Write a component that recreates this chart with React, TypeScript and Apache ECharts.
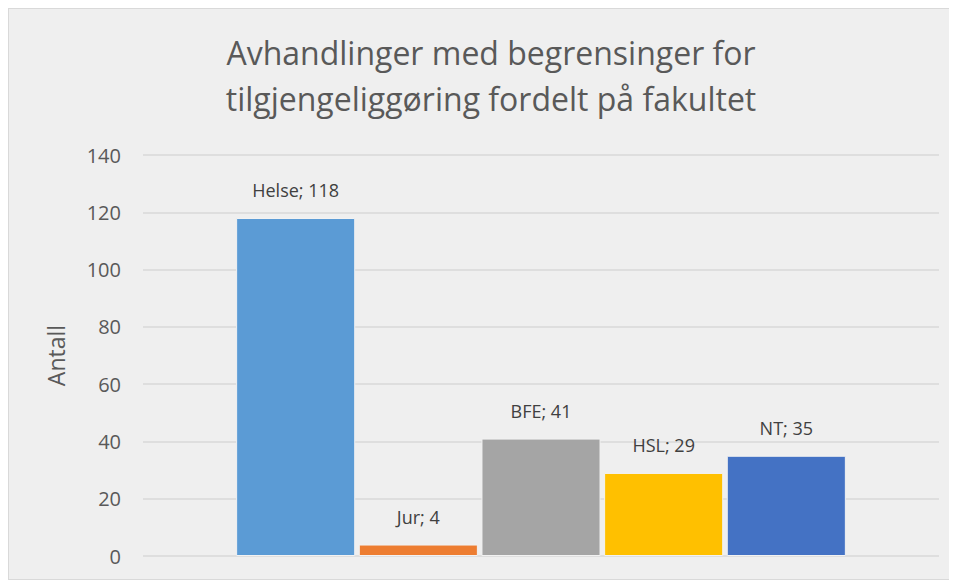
import React, { useEffect, useRef } from "react";
import * as echarts from "echarts";

const categories = ["Fakultet"];
const seriesNames = ["Helse", "Jur", "BFE", "HSL", "NT"];
const seriesValues = [118, 4, 41, 29, 35];
const seriesColors = ["#5B9BD5", "#ED7D31", "#A5A5A5", "#FFC000", "#4472C4"];
const yTicks = { min: 0, max: 140, interval: 20 };
const titleLines = ["Avhandlinger med begrensinger for", "tilgjengeliggøring fordelt på fakultet"];
const yAxisName = "Antall";

const FONT = "'Open Sans', 'Noto Sans', sans-serif";

export default function App() {
  const ref = useRef<HTMLDivElement>(null);
  useEffect(() => {
    if (!ref.current) return;
    const chart = echarts.init(ref.current, null, { renderer: "svg" });
    chart.setOption({
      animation: false,
      backgroundColor: "#EFEFEF",
      textStyle: { fontFamily: FONT },
      graphic: [
        {
          type: "text",
          x: 482,
          y: 20,
          style: {
            text: titleLines.join("\n"),
            textAlign: "center",
            textVerticalAlign: "top",
            fontFamily: FONT,
            fontSize: 32,
            lineHeight: 46,
            fill: "#595959",
          },
        },
      ],
      grid: { left: 134, top: 146, right: 17, bottom: 23, containLabel: false },
      xAxis: {
        type: "category",
        data: categories,
        axisLine: { show: false },
        axisTick: { show: false },
        axisLabel: { show: false },
      },
      yAxis: {
        type: "value",
        min: yTicks.min,
        max: yTicks.max,
        interval: yTicks.interval,
        name: yAxisName,
        nameLocation: "middle",
        nameGap: 76,
        nameRotate: 90,
        nameTextStyle: { fontFamily: FONT, fontSize: 23, color: "#595959" },
        axisLine: { show: false },
        axisTick: { show: false },
        axisLabel: { fontFamily: FONT, fontSize: 20, color: "#595959", margin: 22 },
        splitLine: { lineStyle: { color: "#D9D9D9", width: 1.5 } },
      },
      series: seriesNames.map((name, i) => ({
        type: "bar",
        name,
        data: [seriesValues[i]],
        barCategoryGap: "23.4%",
        barGap: "3%",
        itemStyle: { color: seriesColors[i], borderColor: "#F2F2F2", borderWidth: 1 },
        label: {
          show: true,
          position: "top",
          distance: 19,
          formatter: "{a}; {c}",
          fontFamily: FONT,
          fontSize: 18,
          color: "#404040",
        },
      })),
    });
    return () => chart.dispose();
  }, []);
  return (
    <div
      ref={ref}
      style={{
        width: 949,
        height: 572,
        border: "1px solid #D9D9D9",
        boxSizing: "border-box",
      }}
    />
  );
}
